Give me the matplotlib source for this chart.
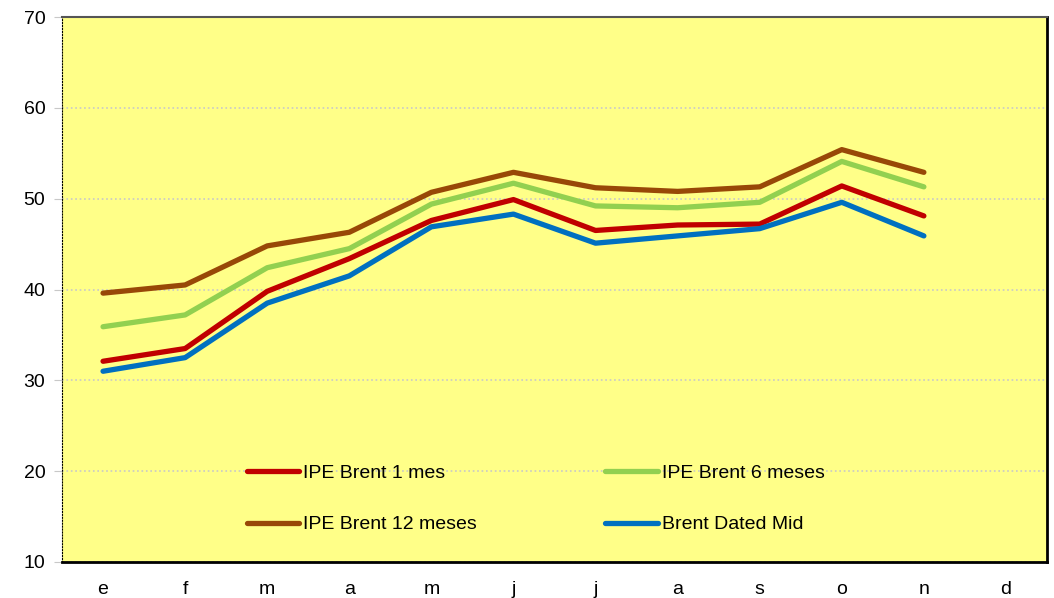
import matplotlib
matplotlib.use("Agg")
import matplotlib.pyplot as plt

plt.rcParams['font.family'] = ['Liberation Sans', 'DejaVu Sans']

meses = ['e', 'f', 'm', 'a', 'm', 'j', 'j', 'a', 's', 'o', 'n', 'd']

# valores (sin dato para diciembre)
brent_1m = [32.1, 33.5, 39.8, 43.4, 47.6, 49.9, 46.5, 47.1, 47.2, 51.4, 48.1]
brent_6m = [35.9, 37.2, 42.4, 44.5, 49.4, 51.7, 49.2, 49.0, 49.6, 54.1, 51.3]
brent_12m = [39.6, 40.5, 44.8, 46.3, 50.7, 52.9, 51.2, 50.8, 51.3, 55.4, 52.9]
dated_mid = [31.0, 32.5, 38.5, 41.5, 46.9, 48.3, 45.1, 45.9, 46.7, 49.6, 45.9]

series = [
    ('IPE Brent 1 mes', brent_1m, '#C00000'),
    ('IPE Brent 6 meses', brent_6m, '#92D050'),
    ('IPE Brent 12 meses', brent_12m, '#984807'),
    ('Brent Dated Mid', dated_mid, '#0070C0'),
]

fig = plt.figure(figsize=(10.54, 5.98), dpi=100)
ax = fig.add_axes([62 / 1054, 36 / 598, 985 / 1054, 545 / 598])
ax.set_facecolor('#FFFF88')

lineas = []
for nombre, vals, col in series:
    xs = [i + 0.5 for i in range(len(vals))]
    l, = ax.plot(xs, vals, color=col, lw=3.8, label=nombre, solid_capstyle='round')
    lineas.append(l)

ax.set_xlim(0, 12)
ax.set_ylim(10, 70)
ax.set_yticks(range(10, 71, 10))
ax.set_xticks([i + 0.5 for i in range(12)])
ax.set_xticklabels(meses)
ax.tick_params(axis='x', length=0, pad=14, labelsize=14)
ax.tick_params(axis='y', length=6, color='#C8C8C8', pad=6, labelsize=14)

ax.yaxis.grid(True, linestyle=':', color='#C8C8C8', lw=1.2)
ax.set_axisbelow(True)

ax.spines['left'].set_linestyle(':')
ax.spines['left'].set_color('black')
ax.spines['top'].set_color('#555555')
ax.spines['top'].set_linewidth(1.5)
ax.spines['right'].set_linewidth(2)
ax.spines['bottom'].set_linewidth(2)

# orden por filas como en la leyenda original
orden = [0, 2, 1, 3]
ax.legend([lineas[i] for i in orden], [series[i][0] for i in orden],
          loc='center', bbox_to_anchor=(0.481, 0.116), ncol=2, frameon=False,
          fontsize=14, handlelength=2.7, handletextpad=0.2,
          columnspacing=6.6, labelspacing=1.75)

fig.savefig('out.png', dpi=100)
